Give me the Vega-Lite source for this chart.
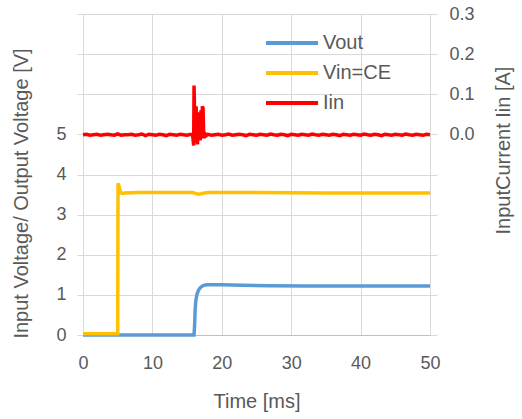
{
  "$schema": "https://vega.github.io/schema/vega-lite/v6.json",
  "width": 347,
  "height": 321,
  "autosize": {"type": "none"},
  "padding": {"left": 83, "top": 14, "right": 92, "bottom": 84},
  "background": "white",
  "config": {
    "view": {"stroke": null},
    "font": "Liberation Sans",
    "axis": {"labelColor": "#595959", "titleColor": "#595959", "labelFontSize": 18, "titleFontSize": 20, "titleFontWeight": "normal", "gridColor": "#d9d9d9", "domainColor": "#d9d9d9", "tickColor": "#d9d9d9"}
  },
  "data": {"values": [
    {"s":"Vout","t":0,"v":0},{"s":"Vout","t":16.0,"v":0},{"s":"Vout","t":16.1,"v":0.3},{"s":"Vout","t":16.15,"v":0.6},{"s":"Vout","t":16.25,"v":0.85},{"s":"Vout","t":16.4,"v":1.0},{"s":"Vout","t":16.6,"v":1.1},{"s":"Vout","t":16.9,"v":1.18},{"s":"Vout","t":17.3,"v":1.23},{"s":"Vout","t":17.8,"v":1.25},{"s":"Vout","t":20,"v":1.25},{"s":"Vout","t":23,"v":1.24},{"s":"Vout","t":27,"v":1.23},{"s":"Vout","t":32,"v":1.22},{"s":"Vout","t":40,"v":1.22},{"s":"Vout","t":50,"v":1.22},
    {"s":"Vin=CE","t":0,"v":0.03},{"s":"Vin=CE","t":5.0,"v":0.03},{"s":"Vin=CE","t":5.05,"v":3.78},{"s":"Vin=CE","t":5.2,"v":3.7},{"s":"Vin=CE","t":5.4,"v":3.56},{"s":"Vin=CE","t":5.6,"v":3.53},{"s":"Vin=CE","t":6,"v":3.54},{"s":"Vin=CE","t":8,"v":3.55},{"s":"Vin=CE","t":12,"v":3.55},{"s":"Vin=CE","t":15.8,"v":3.55},{"s":"Vin=CE","t":16.2,"v":3.53},{"s":"Vin=CE","t":16.6,"v":3.51},{"s":"Vin=CE","t":17,"v":3.52},{"s":"Vin=CE","t":17.5,"v":3.54},{"s":"Vin=CE","t":18,"v":3.55},{"s":"Vin=CE","t":25,"v":3.55},{"s":"Vin=CE","t":35,"v":3.54},{"s":"Vin=CE","t":50,"v":3.54},
    {"s":"Iin","t":0,"v":-0.001},{"s":"Iin","t":0.5,"v":0.0},{"s":"Iin","t":1,"v":-0.002},{"s":"Iin","t":1.5,"v":-0.001},{"s":"Iin","t":2,"v":0.0},{"s":"Iin","t":2.5,"v":-0.002},{"s":"Iin","t":3,"v":-0.001},{"s":"Iin","t":3.5,"v":0.0},{"s":"Iin","t":4,"v":-0.001},{"s":"Iin","t":4.5,"v":-0.002},{"s":"Iin","t":5,"v":0.001},{"s":"Iin","t":5.5,"v":-0.002},{"s":"Iin","t":6,"v":-0.001},{"s":"Iin","t":6.5,"v":-0.001},{"s":"Iin","t":7,"v":0.0},{"s":"Iin","t":7.5,"v":-0.002},{"s":"Iin","t":8,"v":-0.001},{"s":"Iin","t":8.5,"v":0.001},{"s":"Iin","t":9,"v":-0.003},{"s":"Iin","t":9.5,"v":0.0},{"s":"Iin","t":10,"v":-0.001},{"s":"Iin","t":10.5,"v":-0.002},{"s":"Iin","t":11,"v":0.0},{"s":"Iin","t":11.5,"v":-0.001},{"s":"Iin","t":12,"v":-0.003},{"s":"Iin","t":12.5,"v":0.0},{"s":"Iin","t":13,"v":-0.001},{"s":"Iin","t":13.5,"v":-0.002},{"s":"Iin","t":14,"v":0.0},{"s":"Iin","t":14.5,"v":-0.001},{"s":"Iin","t":15,"v":-0.002},{"s":"Iin","t":15.5,"v":0.0},
    {"s":"Iin","t":15.8,"v":-0.002},{"s":"Iin","t":15.95,"v":-0.028},{"s":"Iin","t":16.0,"v":0.122},{"s":"Iin","t":16.1,"v":0.04},{"s":"Iin","t":16.2,"v":-0.02},{"s":"Iin","t":16.3,"v":0.07},{"s":"Iin","t":16.4,"v":0.01},{"s":"Iin","t":16.5,"v":-0.025},{"s":"Iin","t":16.6,"v":0.045},{"s":"Iin","t":16.7,"v":-0.01},{"s":"Iin","t":16.8,"v":0.055},{"s":"Iin","t":16.9,"v":-0.015},{"s":"Iin","t":17.0,"v":0.06},{"s":"Iin","t":17.1,"v":-0.01},{"s":"Iin","t":17.2,"v":0.07},{"s":"Iin","t":17.3,"v":0.065},{"s":"Iin","t":17.4,"v":-0.01},{"s":"Iin","t":17.5,"v":0.005},{"s":"Iin","t":17.7,"v":-0.004},{"s":"Iin","t":18,"v":0.0},
    {"s":"Iin","t":18.5,"v":-0.002},{"s":"Iin","t":19,"v":-0.001},{"s":"Iin","t":19.5,"v":0.0},{"s":"Iin","t":20,"v":-0.002},{"s":"Iin","t":20.5,"v":-0.001},{"s":"Iin","t":21,"v":0.001},{"s":"Iin","t":21.5,"v":-0.002},{"s":"Iin","t":22,"v":-0.001},{"s":"Iin","t":22.5,"v":0.0},{"s":"Iin","t":23,"v":-0.001},{"s":"Iin","t":23.5,"v":-0.003},{"s":"Iin","t":24,"v":0.0},{"s":"Iin","t":24.5,"v":-0.001},{"s":"Iin","t":25,"v":-0.002},{"s":"Iin","t":25.5,"v":0.0},{"s":"Iin","t":26,"v":-0.001},{"s":"Iin","t":26.5,"v":-0.002},{"s":"Iin","t":27,"v":0.001},{"s":"Iin","t":27.5,"v":-0.001},{"s":"Iin","t":28,"v":-0.002},{"s":"Iin","t":28.5,"v":0.0},{"s":"Iin","t":29,"v":-0.001},{"s":"Iin","t":29.5,"v":-0.003},{"s":"Iin","t":30,"v":0.0},{"s":"Iin","t":30.5,"v":-0.001},{"s":"Iin","t":31,"v":-0.002},{"s":"Iin","t":31.5,"v":0.0},{"s":"Iin","t":32,"v":-0.001},{"s":"Iin","t":32.5,"v":-0.002},{"s":"Iin","t":33,"v":0.001},{"s":"Iin","t":33.5,"v":-0.001},{"s":"Iin","t":34,"v":-0.002},{"s":"Iin","t":34.5,"v":0.0},{"s":"Iin","t":35,"v":-0.001},{"s":"Iin","t":35.5,"v":-0.002},{"s":"Iin","t":36,"v":0.0},{"s":"Iin","t":36.5,"v":-0.001},{"s":"Iin","t":37,"v":-0.003},{"s":"Iin","t":37.5,"v":0.0},{"s":"Iin","t":38,"v":-0.001},{"s":"Iin","t":38.5,"v":-0.002},{"s":"Iin","t":39,"v":0.0},{"s":"Iin","t":39.5,"v":-0.001},{"s":"Iin","t":40,"v":-0.002},{"s":"Iin","t":40.5,"v":0.001},{"s":"Iin","t":41,"v":-0.001},{"s":"Iin","t":41.5,"v":-0.002},{"s":"Iin","t":42,"v":0.0},{"s":"Iin","t":42.5,"v":-0.001},{"s":"Iin","t":43,"v":-0.003},{"s":"Iin","t":43.5,"v":0.0},{"s":"Iin","t":44,"v":-0.001},{"s":"Iin","t":44.5,"v":-0.002},{"s":"Iin","t":45,"v":0.0},{"s":"Iin","t":45.5,"v":-0.001},{"s":"Iin","t":46,"v":-0.002},{"s":"Iin","t":46.5,"v":0.001},{"s":"Iin","t":47,"v":-0.001},{"s":"Iin","t":47.5,"v":-0.002},{"s":"Iin","t":48,"v":0.0},{"s":"Iin","t":48.5,"v":-0.001},{"s":"Iin","t":49,"v":-0.002},{"s":"Iin","t":49.5,"v":0.0},{"s":"Iin","t":50,"v":-0.001}
  ]},
  "encoding": {
    "x": {"field": "t", "type": "quantitative", "scale": {"domain": [0, 50], "nice": false},
      "axis": {"title": "Time [ms]", "values": [0,10,20,30,40,50], "grid": true, "ticks": false, "labelPadding": 19, "titlePadding": 19, "domainColor": "#bfbfbf", "labelFlush": false}},
    "color": {"field": "s", "type": "nominal",
      "scale": {"domain": ["Vout", "Vin=CE", "Iin"], "range": ["#5B9BD5", "#FFC000", "#FF0000"]},
      "legend": {"title": null, "orient": "none", "legendX": 181, "legendY": 12, "symbolType": "M-1,0H2.47", "symbolSize": 900, "symbolStrokeWidth": 4, "labelFontSize": 20, "labelColor": "#595959", "labelOffset": 25, "rowPadding": 3}}
  },
  "layer": [
    {
      "encoding": {
        "y": {"field": "v", "type": "quantitative", "scale": {"domain": [0, 8], "nice": false},
          "axis": {"title": "Input Voltage/ Output Voltage [V]", "orient": "left", "values": [0,1,2,3,4,5,6,7,8], "labelExpr": "datum.value <= 5 ? datum.label : ''", "grid": true, "tickSize": 6, "labelPadding": 11, "titlePadding": 24, "titleY": 179}}
      },
      "layer": [
        {"transform": [{"filter": "datum.s === 'Vout'"}], "mark": {"type": "line", "strokeWidth": 3.5}},
        {"transform": [{"filter": "datum.s === 'Vin=CE'"}], "mark": {"type": "line", "strokeWidth": 3.5}}
      ]
    },
    {
      "transform": [{"filter": "datum.s === 'Iin'"}],
      "mark": {"type": "line", "strokeWidth": 3.5},
      "encoding": {
        "y": {"field": "v", "type": "quantitative", "scale": {"domain": [-0.5, 0.3], "nice": false, "zero": false},
          "axis": {"title": "InputCurrent Iin [A]", "orient": "right", "values": [-0.5,-0.4,-0.3,-0.2,-0.1,0,0.1,0.2,0.3], "labelExpr": "datum.value >= -0.001 ? format(datum.value, '.1f') : ''", "grid": false, "tickSize": 7, "labelPadding": 12, "titlePadding": 39, "titleAngle": 270, "titleY": 136}}
      }
    }
  ],
  "resolve": {"scale": {"y": "independent"}}
}
